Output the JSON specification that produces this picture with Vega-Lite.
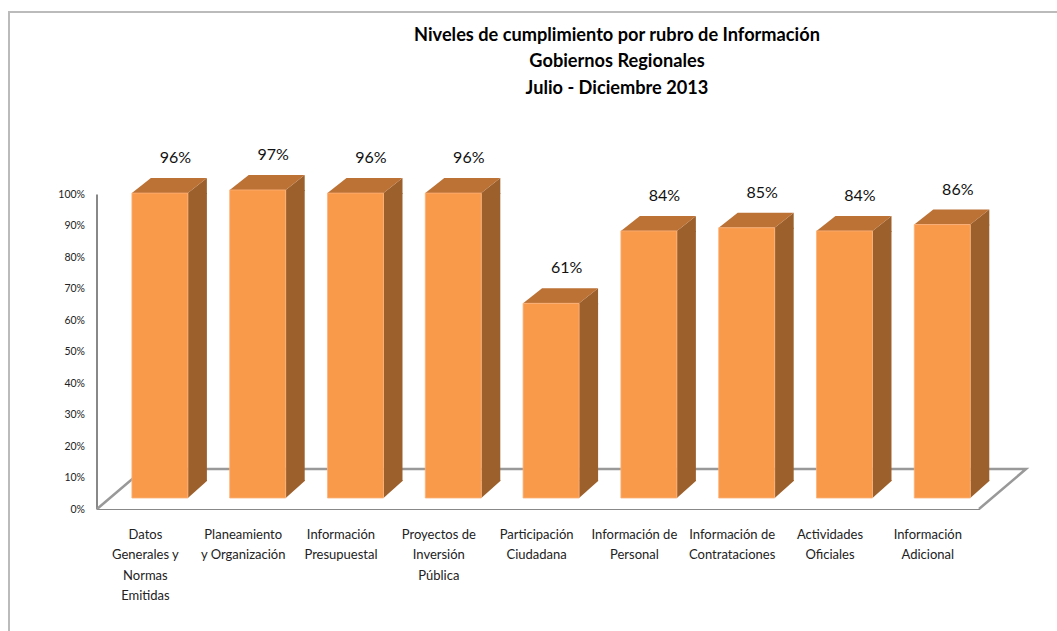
{
"$schema":"https://vega.github.io/schema/vega-lite/v6.json",
"width":883,"height":315,
"autosize":{"type":"none"},
"padding":{"left":96.5,"top":194,"right":77.5,"bottom":122},
"background":"white",
"config":{"view":{"stroke":null},"font":"Lato"},
"title":{"text":["Niveles de cumplimiento  por rubro de Información","Gobiernos Regionales","Julio - Diciembre 2013"],"anchor":"middle","frame":"group","dx":79,"offset":-90,"fontSize":18.2,"fontWeight":"bold","font":"Lato","color":"#000000","lineHeight":26.5},
"data":{"values":[
{"rubro":"Datos Generales y Normas Emitidas","valor":0.96},
{"rubro":"Planeamiento y Organización","valor":0.97},
{"rubro":"Información Presupuestal","valor":0.96},
{"rubro":"Proyectos de Inversión Pública","valor":0.96},
{"rubro":"Participación Ciudadana","valor":0.61},
{"rubro":"Información de Personal","valor":0.84},
{"rubro":"Información de Contrataciones","valor":0.85},
{"rubro":"Actividades Oficiales","valor":0.84},
{"rubro":"Información Adicional","valor":0.86}
]},
"encoding":{
"x":{"field":"rubro","type":"nominal","sort":null,"title":null,
"scale":{"paddingInner":0,"paddingOuter":0.0144,"align":0},
"axis":{"labelAngle":0,"ticks":false,"domainColor":"#888888","domainWidth":1,"labelFont":"Lato","labelFontSize":13,"labelColor":"#222222","labelPadding":25,"labelLimit":200,"labelLineHeight":20.5,"labelBaseline":"middle",
"labelExpr":"{'Datos Generales y Normas Emitidas':['Datos','Generales y','Normas','Emitidas'],'Planeamiento y Organización':['Planeamiento','y Organización'],'Información Presupuestal':['Información','Presupuestal'],'Proyectos de Inversión Pública':['Proyectos de','Inversión','Pública'],'Participación Ciudadana':['Participación','Ciudadana'],'Información de Personal':['Información de','Personal'],'Información de Contrataciones':['Información de','Contrataciones'],'Actividades Oficiales':['Actividades','Oficiales'],'Información Adicional':['Información','Adicional']}[datum.label]"}},
"y":{"field":"valor","type":"quantitative","title":null,
"scale":{"domain":[0,1],"nice":false},
"axis":{"values":[0,0.1,0.2,0.3,0.4,0.5,0.6,0.7,0.8,0.9,1],"format":".0%","ticks":false,"grid":false,"domainColor":"#888888","domainWidth":2,"labelFont":"Lato","labelFontSize":10.5,"labelColor":"#222222","labelPadding":12}}
},
"layer":[
{"data":{"values":[{"rubro":"Datos Generales y Normas Emitidas","valor":0}]},
 "mark":{"type":"point","filled":false,"opacity":1,"size":4,"stroke":"#bbbbbb","strokeWidth":2,"shape":"M-136.4,122 L-136.4,-497 L911.6,-497"}},
{"data":{"values":[{"rubro":"Datos Generales y Normas Emitidas","valor":0}]},
 "mark":{"type":"point","filled":false,"opacity":1,"size":4,"stroke":"#999999","strokeWidth":2.5,"shape":"M-48.4,0 L-1.4,-40 L880.6,-40 L833.6,0"}},
{"mark":{"type":"bar","width":19,"xOffset":52,"yOffset":-13.5,"y2Offset":-28,"color":"#9C602C"},"encoding":{"y2":{"datum":0}}},
{"mark":{"type":"point","filled":true,"opacity":1,"size":4,"xOffset":14.5,"yOffset":-13.5,"color":"#9C602C","strokeWidth":0,"shape":"M28,1 L28,0 L47,-15 L47,1 Z"}},
{"mark":{"type":"point","filled":true,"opacity":1,"size":4,"xOffset":14.5,"yOffset":-13.5,"color":"#BC7135","strokeWidth":0,"shape":"M-28,0 L-9,-15 L47,-15 L28,0 Z"}},
{"mark":{"type":"point","filled":true,"opacity":1,"size":4,"xOffset":14.5,"yOffset":-11,"color":"#9C602C","strokeWidth":0,"shape":"M28,0 L47,-17 L47,-18 L28,-18 Z"},"encoding":{"y":{"datum":0}}},
{"mark":{"type":"bar","width":56,"xOffset":14.5,"yOffset":-13.5,"y2Offset":-11,"color":"#F9994A","stroke":"#FBB27A","strokeWidth":0.8},"encoding":{"y2":{"datum":0}}},
{"mark":{"type":"text","font":"Lato","fontSize":16,"color":"#111111","xOffset":30,"yOffset":-48.5,"align":"center","baseline":"middle"},"encoding":{"text":{"field":"valor","type":"quantitative","format":".0%"}}}
]
}
